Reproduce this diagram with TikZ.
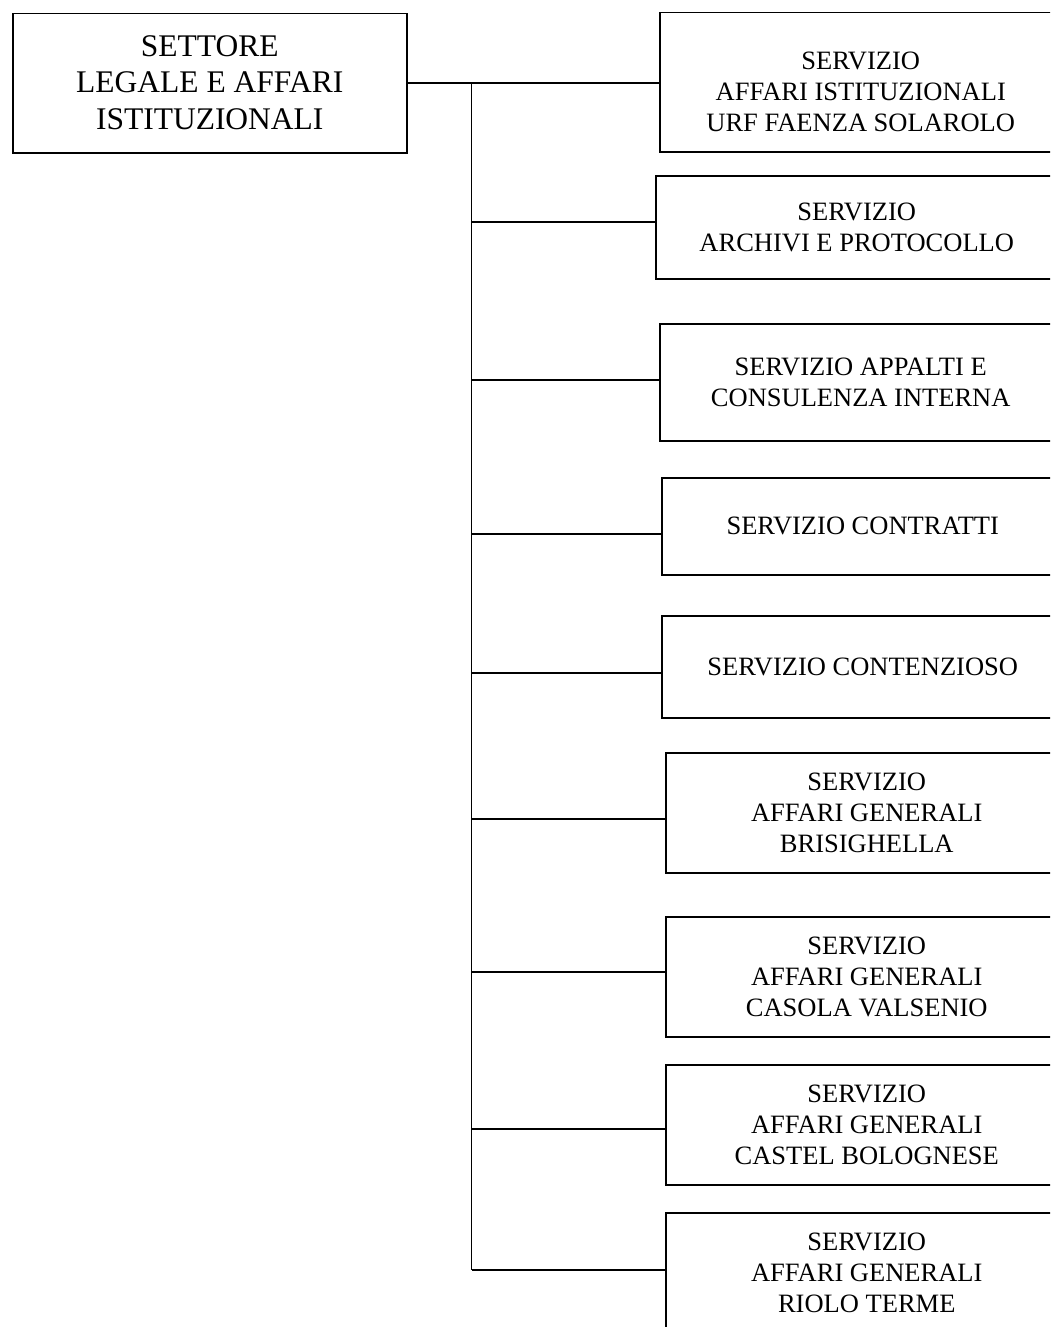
\documentclass[tikz,border=0pt]{standalone}
\usepackage{fontspec}
\setmainfont{Liberation Serif}

\begin{document}
\begin{tikzpicture}[x=1pt, y=-1pt,
    settore/.style={rectangle, draw, line width=1.5pt, align=center, inner sep=0pt,
        font=\fontsize{31.5}{36.5}\selectfont, minimum width=394pt, minimum height=139pt, anchor=north west},
    servizio/.style={rectangle, draw, line width=1.5pt, align=center, inner sep=0pt,
        font=\fontsize{26.5}{31}\selectfont, minimum width=402pt, anchor=north west},
    link/.style={line width=1.9pt}
]
\useasboundingbox (0,0) rectangle (1050,1327);
\clip (0,0) rectangle (1050,1327);

\node[settore] (main) at (12,13)
    {\raisebox{-2pt}[\height][\depth]{\begin{tabular}{@{}c@{}}SETTORE\\LEGALE E AFFARI\\ISTITUZIONALI\end{tabular}}};

\node[servizio, minimum height=139pt] (s1) at (659,12)
    {\raisebox{-12pt}[\height][\depth]{\begin{tabular}{@{}c@{}}SERVIZIO\\AFFARI ISTITUZIONALI\\URF FAENZA SOLAROLO\end{tabular}}};
\node[servizio, minimum height=103pt] (s2) at (655,175) {SERVIZIO\\ARCHIVI E PROTOCOLLO};
\node[servizio, minimum height=117pt] (s3) at (659,323) {SERVIZIO APPALTI E\\CONSULENZA INTERNA};
\node[servizio, minimum height=97pt] (s4) at (661,477) {SERVIZIO CONTRATTI};
\node[servizio, minimum height=102pt] (s5) at (661,615) {SERVIZIO CONTENZIOSO};
\node[servizio, minimum height=120pt] (s6) at (665,752) {SERVIZIO\\AFFARI GENERALI\\BRISIGHELLA};
\node[servizio, minimum height=120pt] (s7) at (665,916) {SERVIZIO\\AFFARI GENERALI\\CASOLA VALSENIO};
\node[servizio, minimum height=120pt] (s8) at (665,1064) {SERVIZIO\\AFFARI GENERALI\\CASTEL BOLOGNESE};
\node[servizio, minimum height=120pt] (s9) at (665,1212) {SERVIZIO\\AFFARI GENERALI\\RIOLO TERME};

% main to first service, then the trunk
\draw[link] (main.east) -- (main.east -| s1.west);
\coordinate (fork) at ([xshift=64pt]main.east);

\foreach \n/\dy in {s2/5.5, s3/2.5, s4/-7.5, s5/-6, s6/-6, s7/5, s8/-4, s9/3} {
    \coordinate (j\n) at ([yshift=\dy pt]\n.west);
    \draw[link] (fork |- j\n) -- (j\n);
}
\draw[link] (fork) -- (fork |- js9);
\end{tikzpicture}
\end{document}
